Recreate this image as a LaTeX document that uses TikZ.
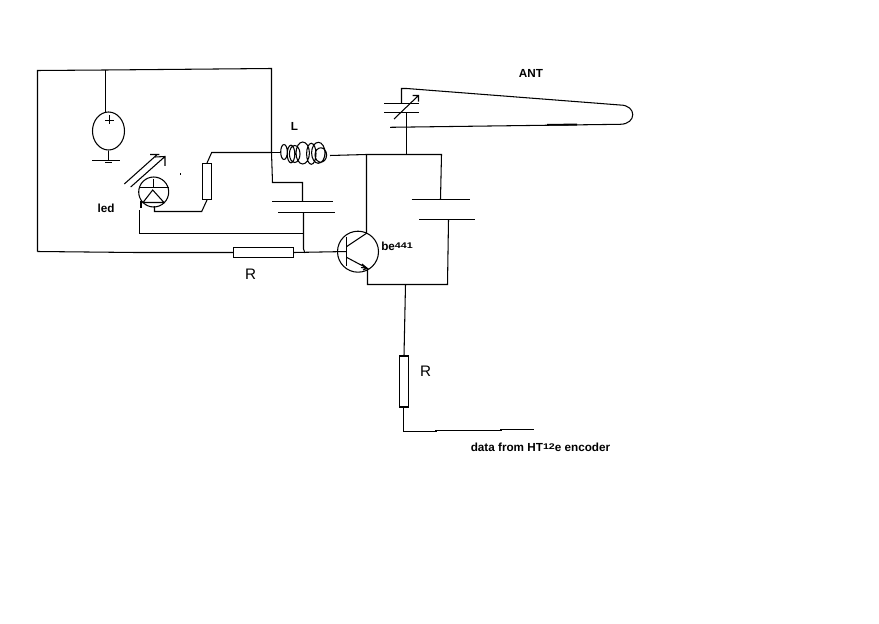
\documentclass[tikz,border=0pt]{standalone}
\usepackage{fontspec}
\setmainfont{Liberation Sans}
\usepackage{tikz}
\usetikzlibrary{arrows,shapes.geometric}
\newcommand{\upnum}[1]{\raisebox{1.6pt}{\fontsize{7}{7}\selectfont\bfseries\scalebox{1.3}[1]{#1}}}
\tikzset{
  wire/.style={line width=0.9pt},
  bold label/.style={font=\fontsize{10}{10}\selectfont\bfseries, inner sep=0},
  plain label/.style={font=\fontsize{13}{13}\selectfont, inner sep=0},
  resistor/.style={draw, rectangle, inner sep=0},
  round part/.style={draw, circle, inner sep=0}
}
\begin{document}
\begin{tikzpicture}[x=0.03cm, y=-0.03cm, wire]
  \useasboundingbox (0,0) rectangle (879,623);

  \coordinate (tl) at (37.5,70.5);
  \coordinate (tr) at (271.5,68.5);
  \coordinate (bl) at (37.5,251.5);
  \coordinate (sup) at (105.5,70);
  \coordinate (coilin) at (271.5,152.5);
  \coordinate (capa) at (272.5,182.5);
  \coordinate (coltop) at (366.5,154.5);
  \coordinate (anttap) at (406.5,154.5);
  \coordinate (tankR) at (441.5,154.5);
  \coordinate (em) at (367.5,284.5);
  \coordinate (emtap) at (405.5,284.5);

  \node (rbase) [resistor, minimum width=1.8cm, minimum height=0.3cm] at (263.5,252.5) {};
  \node (rled) [resistor, minimum width=0.27cm, minimum height=1.08cm] at (207,181.5) {};
  \node (rdata) [resistor, minimum width=0.27cm, minimum height=1.53cm] at (404,381.5) {};
  \node (led) [round part, minimum size=0.9cm] at (153.7,192) {};
  \node (trans) [round part, minimum size=1.23cm] at (358,251.7) {};
  \node (src) [draw, ellipse, minimum width=0.96cm, minimum height=1.14cm, inner sep=0] at (108.5,131) {};

  \node (lblL) [bold label] at (294.5,126) {L};
  \node (lblant) [bold label] at (531,73) {ANT};
  \node (lblled) [bold label] at (106,208) {led};
  \node (lblbe) [bold label] at (397,246) {be\upnum{441}};
  \node (lblr) [plain label] at (250.5,274) {R};
  \node (lblrr) [plain label] at (425.5,371.5) {R};
  \node (lbldata) [bold label] at (540.5,447) {data from HT\upnum{12}e encoder};

  \draw (bl) -- (tl) -- (sup) -- (tr) -- (coilin) -- (capa) -- (302.5,182.5) -- (302.5,201.5);
  \draw (sup) -- (105.5,112);
  \draw (bl) -- (136,252.5) -- (rbase.west);
  \draw (rbase.east) -- (trans.west) -- (346.5,251.7);
  \draw (109.5,115) -- (109.5,124) (105,120.5) -- (114,120.5);
  \draw (src.south) -- (108.5,160.5) (92,160.5) -- (120,160.5) (105,162.5) -- (112,162.5);

  \draw (272,201.5) -- (333,201.5) (278,212.5) -- (335,212.5);
  \draw (303.5,212.5) -- (303.5,249) -- (305,253);
  \draw (303.5,233.5) -- (139.5,233.5) -- (139.5,210);
  \draw (141,201) -- (141,208);

  \draw (139,187.5) -- (168.5,187.5) (153.5,179) -- (153.5,187.5);
  \draw (143,202.5) -- (152.7,190) -- (164,202.5) -- cycle;
  \draw (154.5,206) -- (154.5,211.5) -- (201.7,211.5) -- (rled.south);
  \draw (rled.north) -- (211.7,152.5) -- (coilin);
  \draw (124.3,184) -- (156.7,155) (150,154.5) -- (159.3,154.5);
  \draw (130.7,187) -- (165,156.5) (155,157) -- (165,156.5) -- (165,166);
  \fill (179.5,173.5) rectangle (181,175);

  \draw (coilin) -- (280.7,152.5);
  \draw (284,152) ellipse [x radius=3.3, y radius=7.5]
    (291,154) ellipse [x radius=3.8, y radius=8.8]
    (294.7,154) ellipse [x radius=5.3, y radius=8.5]
    (302.7,153) ellipse [x radius=6.7, y radius=11]
    (311.3,153.8) ellipse [x radius=4.7, y radius=10.5]
    (318.3,152.8) ellipse [x radius=6.7, y radius=10.5]
    (320.8,155) ellipse [x radius=5.8, y radius=7.2];
  \draw (330,155.5) -- (coltop) -- (anttap) -- (tankR) -- (440.5,199);
  \draw (411.7,199.5) -- (470,199.5) (419,219.5) -- (475,219.5);
  \draw (448.5,219.5) -- (447.5,284.5) -- (emtap) -- (em) -- (367.5,268);

  \draw (coltop) -- (366.5,233.3) -- (346.5,246.7);
  \draw (346.5,236.7) -- (346.5,266);
  \draw (346.5,257.3) -- (367.3,268.3) (362,264) -- (367.3,268.3) -- (361,267.5) (363,270) -- (367.3,268.3);

  \draw (anttap) -- (406.5,112.5);
  \draw (384.3,112.5) -- (419,112.5) (384.3,103.5) -- (419,103.5);
  \draw (394,119) -- (418.5,95.5) (412.7,95.5) -- (418.5,95.5) -- (418.5,101.7);
  \draw (401.5,103.5) -- (401.5,88.5) -- (406.7,88.5) -- (620,105)
    .. controls (637,105) and (637,124.3) .. (620,124.3) -- (390,127.3);
  \draw[line width=1.6pt] (547,124.8) -- (577,124.6);

  \draw (405.5,284.5) -- (rdata.north);
  \draw (403.5,407.3) -- (403.5,431.5) -- (436,431.5) -- (436,430.5) -- (501,430.5) -- (501,429.5) -- (534,429.5);
\end{tikzpicture}
\end{document}
